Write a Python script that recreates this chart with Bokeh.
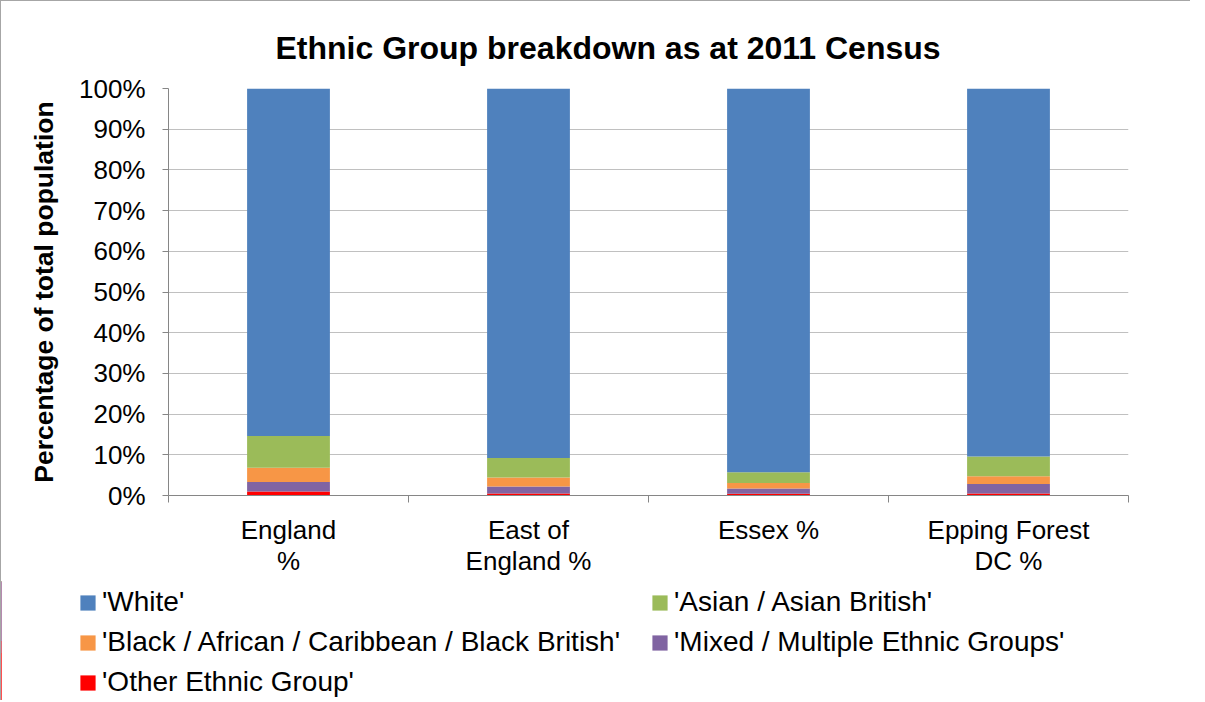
from bokeh.plotting import figure
from bokeh.layouts import column
from bokeh.models import (ColumnDataSource, Range1d, FixedTicker, PrintfTickFormatter,
                          Legend, LegendItem, Title)
from bokeh.embed import file_html
from bokeh.resources import INLINE

# ---- data (percent of total population, 2011 Census) ----
areas = ["England %", "East of England %", "Essex %", "Epping Forest DC %"]
tick_labels = ["England\n%", "East of\nEngland %", "Essex %", "Epping Forest\nDC %"]
other = [1.0, 0.5, 0.4, 0.5]
mixed = [2.3, 1.7, 1.3, 2.3]
black = [3.5, 2.2, 1.4, 1.9]
asian = [7.8, 4.8, 2.6, 4.9]
white = [85.4, 90.8, 94.3, 90.4]
series_names = ["'Other Ethnic Group'", "'Mixed / Multiple Ethnic Groups'",
                "'Black / African / Caribbean / Black British'",
                "'Asian / Asian British'", "'White'"]
colors = ["#FF0000", "#8064A2", "#F79646", "#9BBB59", "#4F81BD"]
y_ticks = [0, 10, 20, 30, 40, 50, 60, 70, 80, 90, 100]

FONT = "Liberation Sans"
keys = ["other", "mixed", "black", "asian", "white"]
xpos = [i + 0.5 for i in range(len(areas))]
source = ColumnDataSource(dict(x=xpos, other=other, mixed=mixed, black=black,
                               asian=asian, white=white))

p = figure(width=1189, height=580, output_backend="svg", toolbar_location=None,
           x_range=Range1d(0, len(areas)), y_range=Range1d(0, 100),
           min_border_left=167, min_border_right=62, min_border_top=87,
           min_border_bottom=86)
p.frame_align = False

renderers = p.vbar_stack(keys, x="x", width=0.345, source=source,
                         color=colors, line_color=None)

# title
t = Title(text="Ethnic Group breakdown as at 2011 Census", align="left", offset=107,
          text_font=FONT, text_font_size="32px", text_font_style="bold",
          text_color="black", standoff=46)
p.add_layout(t, "above")

p.outline_line_color = None
p.background_fill_color = "white"
p.border_fill_color = "white"

# y axis
p.yaxis.ticker = FixedTicker(ticks=y_ticks, minor_ticks=[])
p.yaxis.formatter = PrintfTickFormatter(format="%d%%")
p.yaxis.major_label_text_font = FONT
p.yaxis.major_label_text_font_size = "26px"
p.yaxis.major_label_text_color = "black"
p.yaxis.major_label_standoff = 17
p.yaxis.major_tick_out = 6
p.yaxis.major_tick_in = 0
p.yaxis.minor_tick_line_color = None
p.yaxis.axis_line_color = "#868686"
p.yaxis.major_tick_line_color = "#868686"
p.yaxis.axis_label = "Percentage of total population"
p.yaxis.axis_label_text_font = FONT
p.yaxis.axis_label_text_font_size = "26.5px"
p.yaxis.axis_label_text_font_style = "bold"
p.yaxis.axis_label_text_color = "black"
p.yaxis.axis_label_standoff = 17

# x axis
p.xaxis.ticker = FixedTicker(ticks=xpos, minor_ticks=list(range(len(areas) + 1)))
p.xaxis.major_label_overrides = {x: lab for x, lab in zip(xpos, tick_labels)}
p.xaxis.major_label_text_font = FONT
p.xaxis.major_label_text_font_size = "26px"
p.xaxis.major_label_text_color = "black"
p.xaxis.major_label_text_line_height = 1.05
p.xaxis.major_label_standoff = 12
p.xaxis.major_tick_out = 0
p.xaxis.major_tick_in = 0
p.xaxis.minor_tick_out = 7
p.xaxis.minor_tick_in = 0
p.xaxis.minor_tick_line_color = "#868686"
p.xaxis.axis_line_color = "#868686"

p.xgrid.grid_line_color = None
p.ygrid.ticker = FixedTicker(ticks=y_ticks)
p.ygrid.grid_line_color = "#c0c0c0"

# ---- legend strip below the chart (its swatch bars sit outside its view) ----
lg = figure(width=1189, height=119, output_backend="svg", toolbar_location=None,
            x_range=Range1d(100, 101), y_range=Range1d(0, 1),
            x_axis_type=None, y_axis_type=None,
            min_border_left=0, min_border_right=0, min_border_top=0, min_border_bottom=0)
lg.frame_align = False
lg.outline_line_color = None
lg.border_fill_color = "white"

sw = lg.vbar_stack(keys, x="x", width=0.345, source=source, color=colors, line_color=None)
swatch = dict(zip(series_names, sw))

col1 = ["'White'", "'Black / African / Caribbean / Black British'", "'Other Ethnic Group'"]
col2 = ["'Asian / Asian British'", "'Mixed / Multiple Ethnic Groups'"]

def make_legend(names, loc):
    return Legend(items=[LegendItem(label=n, renderers=[swatch[n]]) for n in names],
                  location=loc, orientation="vertical",
                  label_text_font=FONT, label_text_font_size="28px",
                  label_text_color="black", glyph_width=19, glyph_height=19,
                  label_height=32, label_standoff=5, spacing=8, padding=0, margin=0,
                  border_line_color=None, background_fill_alpha=0)

lg.add_layout(make_legend(col1, (77, 2)), "center")
lg.add_layout(make_legend(col2, (649, 42)), "center")

layout = column(p, lg, spacing=0)
layout.styles = {"border-top": "1px solid #a6a6a6", "border-left": "1px solid #a6a6a6"}

open("out.html", "w").write(file_html(layout, INLINE))
